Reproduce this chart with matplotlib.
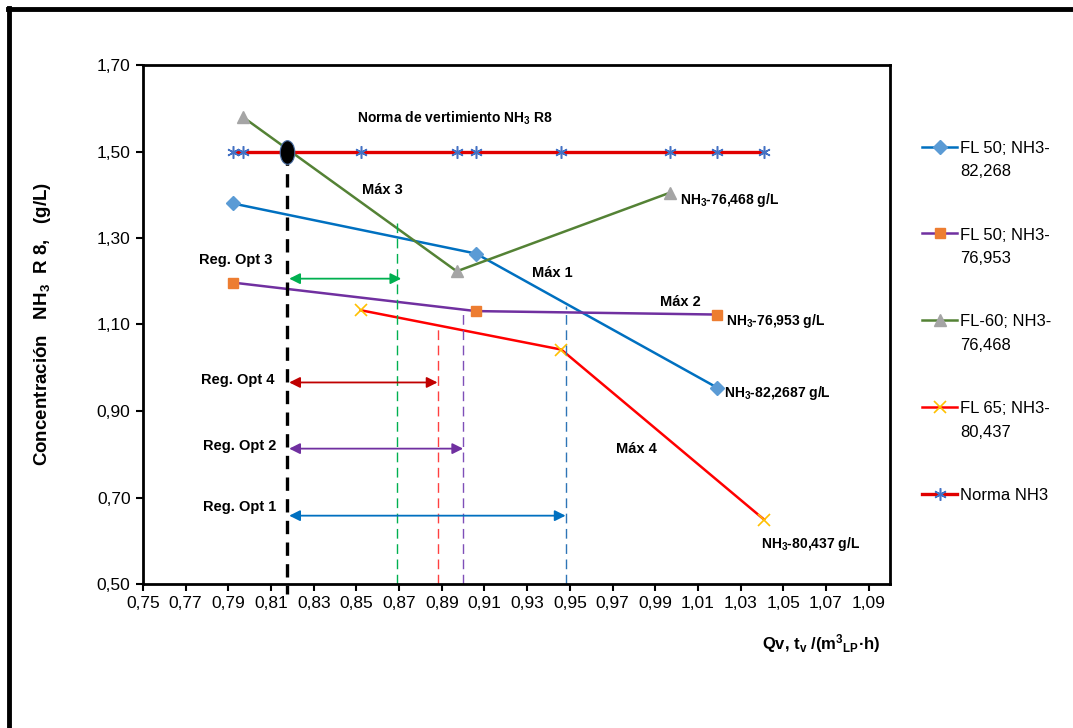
# encoding: utf-8
import matplotlib
matplotlib.use('Agg')
import matplotlib.pyplot as plt
from matplotlib.lines import Line2D
from matplotlib.path import Path
from matplotlib.transforms import Affine2D
from matplotlib.ticker import FuncFormatter
from matplotlib.legend_handler import HandlerLine2D

plt.rcParams['font.family'] = ['Liberation Sans', 'DejaVu Sans']
plt.rcParams['mathtext.default'] = 'regular'

# ---- data ----
fl50a_x = [0.792, 0.906, 1.019]
fl50a_y = [1.380, 1.264, 0.954]
fl50b_x = [0.792, 0.906, 1.019]
fl50b_y = [1.197, 1.131, 1.123]
fl60_x = [0.797, 0.897, 0.997]
fl60_y = [1.579, 1.223, 1.405]
fl65_x = [0.852, 0.946, 1.041]
fl65_y = [1.133, 1.042, 0.649]
norma_x = [0.792, 0.797, 0.852, 0.897, 0.906, 0.946, 0.997, 1.019, 1.041]
norma_y = [1.50] * 9

cross_x, cross_y = 0.8175, 1.50

# vertical dashed guides (x, top y, colour)
guide_x = [0.869, 0.888, 0.900, 0.948]
guide_top = [1.335, 1.100, 1.133, 1.143]
guide_col = ['#00B050', '#FF4040', '#7F4FB8', '#2E75B6']

# optimal region arrows
arrow_y = [1.206, 0.966, 0.813, 0.658]
arrow_x1 = [0.871, 0.888, 0.900, 0.948]
arrow_col = ['#00B050', '#C00000', '#7030A0', '#0070C0']

xticks = [0.75 + 0.02 * i for i in range(18)]
yticks = [0.50, 0.70, 0.90, 1.10, 1.30, 1.50, 1.70]

labels = ['FL 50; NH3-\n82,268', 'FL 50; NH3-\n76,953', 'FL-60; NH3-\n76,468',
          'FL 65; NH3-\n80,437', 'Norma NH3\n ']

notes = [
    ('Norma de vertimiento NH$_3$ R8', 0.896, 1.577, 'center', 10),
    ('Máx 3', 0.862, 1.412, 'center', 10.5),
    ('Máx 1', 0.942, 1.218, 'center', 10.5),
    ('Máx 2', 1.002, 1.152, 'center', 10.5),
    ('Máx 4', 0.981, 0.812, 'center', 10.5),
    ('Reg. Opt 3', 0.7935, 1.249, 'center', 10.5),
    ('Reg. Opt 4', 0.7945, 0.972, 'center', 10.5),
    ('Reg. Opt 2', 0.7955, 0.819, 'center', 10.5),
    ('Reg. Opt 1', 0.7955, 0.678, 'center', 10.5),
    ('NH$_3$-76,468 g/L', 1.0015, 1.389, 'left', 10),
    ('NH$_3$-76,953 g/L', 1.023, 1.108, 'left', 10),
    ('NH$_3$-82,2687 g/L', 1.022, 0.942, 'left', 10),
    ('NH$_3$-80,437 g/L', 1.0395, 0.593, 'left', 10),
]


class TopHandler(HandlerLine2D):
    # put the marker on the first line of a two-line label
    def create_artists(self, legend, orig_handle, xdescent, ydescent,
                       width, height, fontsize, trans):
        return super().create_artists(legend, orig_handle, xdescent,
                                      ydescent - 1.65 * fontsize, width,
                                      height, fontsize, trans)


def fmt(v, p):
    return f'{v:.2f}'.replace('.', ',')


def main():
    fig = plt.figure(figsize=(10.73, 7.28), dpi=100)
    ax = fig.add_axes([143 / 1073, 1 - 584 / 728, 747 / 1073, 519 / 728])

    l1, = ax.plot(fl50a_x, fl50a_y, '-', color='#0070C0', lw=1.8, marker='D',
                  ms=7, mfc='#5B9BD5', mec='#5B9BD5')
    l2, = ax.plot(fl50b_x, fl50b_y, '-', color='#7030A0', lw=1.8, marker='s',
                  ms=7.5, mfc='#ED7D31', mec='#ED7D31')
    l3, = ax.plot(fl60_x, fl60_y, '-', color='#548235', lw=1.8, marker='^',
                  ms=8.5, mfc='#A5A5A5', mec='#A5A5A5')
    l4, = ax.plot(fl65_x, fl65_y, '-', color='#FF0000', lw=1.8, marker='x',
                  ms=8, mec='#FFC000', mew=1.2)
    l5, = ax.plot(norma_x, norma_y, '-', color='#E00000', lw=2.4,
                  marker=(6, 2, 0), ms=9, mec='#4472C4', mew=1.1)

    # vertical guides
    for gx, gt, gc in zip(guide_x, guide_top, guide_col):
        ax.plot([gx, gx], [0.50, gt], color=gc, lw=1.0, dashes=(7, 4))
    ax.plot([cross_x, cross_x], [cross_y, 0.478], color='black', lw=2.4,
            dashes=(4, 2.5), clip_on=False, zorder=5)

    ellipse = Path.unit_circle().transformed(Affine2D().scale(0.62, 1.0))
    ax.plot([cross_x], [cross_y], marker=ellipse, ms=17, mfc='black',
            mec='#4A6FA5', mew=0.8, zorder=6)

    for ay, ax1, ac in zip(arrow_y, arrow_x1, arrow_col):
        ax.annotate('', xy=(ax1, ay), xytext=(cross_x + 0.001, ay),
                    arrowprops=dict(arrowstyle='<|-|>', color=ac, lw=1.3,
                                    mutation_scale=16, shrinkA=0, shrinkB=0))

    for txt, tx, ty, ha, fs in notes:
        ax.text(tx, ty, txt, ha=ha, va='center', fontsize=fs,
                fontweight='bold')

    ax.set_xlim(0.75, 1.10)
    ax.set_ylim(0.50, 1.70)
    ax.set_xticks(xticks)
    ax.set_yticks(yticks)
    ax.xaxis.set_major_formatter(FuncFormatter(fmt))
    ax.yaxis.set_major_formatter(FuncFormatter(fmt))
    ax.tick_params(direction='out', length=5, width=1.5, labelsize=12.5, pad=4)
    for s in ax.spines.values():
        s.set_linewidth(2.0)

    ax.set_ylabel('Concentración   NH$_3$  R 8,   (g/L)', fontsize=13.5,
                  fontweight='bold')
    ax.yaxis.set_label_coords(-0.121, 0.5)
    ax.set_xlabel('Qv, t$_v$ /(m$^3$$_{LP}$·h)', fontsize=12,
                  fontweight='bold', loc='right')
    ax.xaxis.set_label_coords(0.987, -0.093)

    hm = {l: TopHandler() for l in (l1, l2, l3, l4, l5)}
    leg = fig.legend([l1, l2, l3, l4, l5], labels, handler_map=hm,
                     loc='upper left', bbox_to_anchor=(922 / 1073, 1 - 141 / 728),
                     frameon=False, fontsize=12, handlelength=2.1,
                     handletextpad=0.2, labelspacing=2.9, borderpad=0,
                     borderaxespad=0)
    for t in leg.get_texts():
        t.set_linespacing(1.7)

    # outer frame (top and left only)
    fig.add_artist(Line2D([8 / 1073, 1], [1 - 9 / 728, 1 - 9 / 728],
                          transform=fig.transFigure, color='black', lw=3.5))
    fig.add_artist(Line2D([9 / 1073, 9 / 1073], [0, 1 - 8 / 728],
                          transform=fig.transFigure, color='black', lw=3.5))

    fig.savefig('out.png', dpi=100)


if __name__ == '__main__':
    main()
